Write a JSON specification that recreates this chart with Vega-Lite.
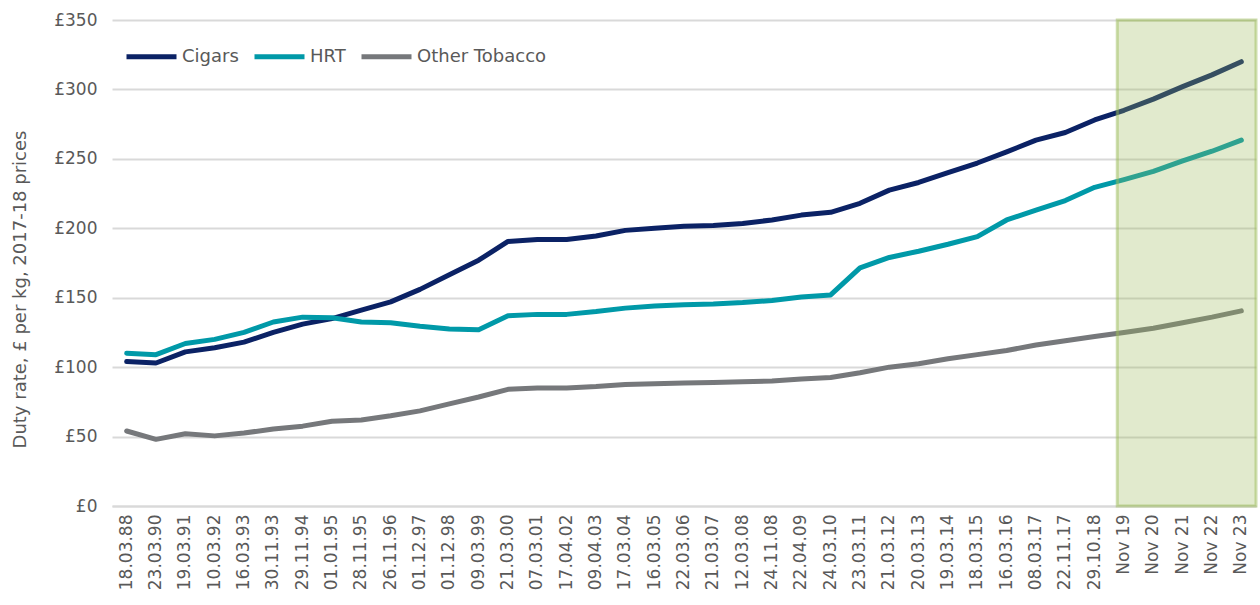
{
  "$schema": "https://vega.github.io/schema/vega-lite/v6.json",
  "width": 1144,
  "height": 486,
  "autosize": {"type": "none"},
  "padding": {"left": 112, "top": 20, "right": 4, "bottom": 99},
  "background": "white",
  "config": {
    "view": {"stroke": null},
    "font": "DejaVu Sans",
    "axis": {"labelColor": "#595959", "titleColor": "#595959", "labelFont": "DejaVu Sans", "titleFont": "DejaVu Sans"}
  },
  "datasets": {
    "series": [
      {"d":"18.03.88","s":"Cigars","v":104},{"d":"23.03.90","s":"Cigars","v":103},{"d":"19.03.91","s":"Cigars","v":111},{"d":"10.03.92","s":"Cigars","v":114},{"d":"16.03.93","s":"Cigars","v":118},{"d":"30.11.93","s":"Cigars","v":125},{"d":"29.11.94","s":"Cigars","v":131},{"d":"01.01.95","s":"Cigars","v":135},{"d":"28.11.95","s":"Cigars","v":141},{"d":"26.11.96","s":"Cigars","v":147},{"d":"01.12.97","s":"Cigars","v":156},{"d":"01.12.98","s":"Cigars","v":166.5},{"d":"09.03.99","s":"Cigars","v":177},{"d":"21.03.00","s":"Cigars","v":190.5},{"d":"07.03.01","s":"Cigars","v":192},{"d":"17.04.02","s":"Cigars","v":192},{"d":"09.04.03","s":"Cigars","v":194.5},{"d":"17.03.04","s":"Cigars","v":198.5},{"d":"16.03.05","s":"Cigars","v":200},{"d":"22.03.06","s":"Cigars","v":201.5},{"d":"21.03.07","s":"Cigars","v":202},{"d":"12.03.08","s":"Cigars","v":203.5},{"d":"24.11.08","s":"Cigars","v":206},{"d":"22.04.09","s":"Cigars","v":209.5},{"d":"24.03.10","s":"Cigars","v":211.5},{"d":"23.03.11","s":"Cigars","v":218},{"d":"21.03.12","s":"Cigars","v":227.5},{"d":"20.03.13","s":"Cigars","v":233},{"d":"19.03.14","s":"Cigars","v":240},{"d":"18.03.15","s":"Cigars","v":247},{"d":"16.03.16","s":"Cigars","v":255},{"d":"08.03.17","s":"Cigars","v":263.5},{"d":"22.11.17","s":"Cigars","v":269},{"d":"29.10.18","s":"Cigars","v":278},{"d":"Nov 19","s":"Cigars","v":285},{"d":"Nov 20","s":"Cigars","v":293},{"d":"Nov 21","s":"Cigars","v":302},{"d":"Nov 22","s":"Cigars","v":310.5},{"d":"Nov 23","s":"Cigars","v":320},
      {"d":"18.03.88","s":"HRT","v":110},{"d":"23.03.90","s":"HRT","v":109},{"d":"19.03.91","s":"HRT","v":117},{"d":"10.03.92","s":"HRT","v":120},{"d":"16.03.93","s":"HRT","v":125},{"d":"30.11.93","s":"HRT","v":132.5},{"d":"29.11.94","s":"HRT","v":136},{"d":"01.01.95","s":"HRT","v":135.5},{"d":"28.11.95","s":"HRT","v":132.5},{"d":"26.11.96","s":"HRT","v":132},{"d":"01.12.97","s":"HRT","v":129.5},{"d":"01.12.98","s":"HRT","v":127.5},{"d":"09.03.99","s":"HRT","v":127},{"d":"21.03.00","s":"HRT","v":137},{"d":"07.03.01","s":"HRT","v":138},{"d":"17.04.02","s":"HRT","v":138},{"d":"09.04.03","s":"HRT","v":140},{"d":"17.03.04","s":"HRT","v":142.5},{"d":"16.03.05","s":"HRT","v":144},{"d":"22.03.06","s":"HRT","v":145},{"d":"21.03.07","s":"HRT","v":145.5},{"d":"12.03.08","s":"HRT","v":146.5},{"d":"24.11.08","s":"HRT","v":148},{"d":"22.04.09","s":"HRT","v":150.5},{"d":"24.03.10","s":"HRT","v":152},{"d":"23.03.11","s":"HRT","v":171.5},{"d":"21.03.12","s":"HRT","v":179},{"d":"20.03.13","s":"HRT","v":183.5},{"d":"19.03.14","s":"HRT","v":188.5},{"d":"18.03.15","s":"HRT","v":194},{"d":"16.03.16","s":"HRT","v":206},{"d":"08.03.17","s":"HRT","v":213},{"d":"22.11.17","s":"HRT","v":220},{"d":"29.10.18","s":"HRT","v":229.5},{"d":"Nov 19","s":"HRT","v":235},{"d":"Nov 20","s":"HRT","v":241},{"d":"Nov 21","s":"HRT","v":248.5},{"d":"Nov 22","s":"HRT","v":255.5},{"d":"Nov 23","s":"HRT","v":263.5},
      {"d":"18.03.88","s":"Other Tobacco","v":54},{"d":"23.03.90","s":"Other Tobacco","v":48},{"d":"19.03.91","s":"Other Tobacco","v":52},{"d":"10.03.92","s":"Other Tobacco","v":50.5},{"d":"16.03.93","s":"Other Tobacco","v":52.5},{"d":"30.11.93","s":"Other Tobacco","v":55.5},{"d":"29.11.94","s":"Other Tobacco","v":57.5},{"d":"01.01.95","s":"Other Tobacco","v":61},{"d":"28.11.95","s":"Other Tobacco","v":62},{"d":"26.11.96","s":"Other Tobacco","v":65},{"d":"01.12.97","s":"Other Tobacco","v":68.5},{"d":"01.12.98","s":"Other Tobacco","v":73.5},{"d":"09.03.99","s":"Other Tobacco","v":78.5},{"d":"21.03.00","s":"Other Tobacco","v":84},{"d":"07.03.01","s":"Other Tobacco","v":85},{"d":"17.04.02","s":"Other Tobacco","v":85},{"d":"09.04.03","s":"Other Tobacco","v":86},{"d":"17.03.04","s":"Other Tobacco","v":87.5},{"d":"16.03.05","s":"Other Tobacco","v":88},{"d":"22.03.06","s":"Other Tobacco","v":88.5},{"d":"21.03.07","s":"Other Tobacco","v":89},{"d":"12.03.08","s":"Other Tobacco","v":89.5},{"d":"24.11.08","s":"Other Tobacco","v":90},{"d":"22.04.09","s":"Other Tobacco","v":91.5},{"d":"24.03.10","s":"Other Tobacco","v":92.5},{"d":"23.03.11","s":"Other Tobacco","v":96},{"d":"21.03.12","s":"Other Tobacco","v":100},{"d":"20.03.13","s":"Other Tobacco","v":102.5},{"d":"19.03.14","s":"Other Tobacco","v":106},{"d":"18.03.15","s":"Other Tobacco","v":109},{"d":"16.03.16","s":"Other Tobacco","v":112},{"d":"08.03.17","s":"Other Tobacco","v":116},{"d":"22.11.17","s":"Other Tobacco","v":119},{"d":"29.10.18","s":"Other Tobacco","v":122},{"d":"Nov 19","s":"Other Tobacco","v":125},{"d":"Nov 20","s":"Other Tobacco","v":128},{"d":"Nov 21","s":"Other Tobacco","v":132},{"d":"Nov 22","s":"Other Tobacco","v":136},{"d":"Nov 23","s":"Other Tobacco","v":140.5}
    ],
    "shade": [{"from": "Nov 19", "to": "Nov 23", "lo": 0, "hi": 350}]
  },
  "layer": [
    {
      "data": {"name": "series"},
      "mark": {"type": "line", "strokeWidth": 5, "strokeCap": "round", "strokeJoin": "round"},
      "encoding": {
        "x": {
          "field": "d", "type": "nominal",
          "scale": {"type": "band", "paddingInner": 0, "paddingOuter": 0, "domain": ["18.03.88","23.03.90","19.03.91","10.03.92","16.03.93","30.11.93","29.11.94","01.01.95","28.11.95","26.11.96","01.12.97","01.12.98","09.03.99","21.03.00","07.03.01","17.04.02","09.04.03","17.03.04","16.03.05","22.03.06","21.03.07","12.03.08","24.11.08","22.04.09","24.03.10","23.03.11","21.03.12","20.03.13","19.03.14","18.03.15","16.03.16","08.03.17","22.11.17","29.10.18","Nov 19","Nov 20","Nov 21","Nov 22","Nov 23"]},
          "axis": {"title": null, "labelAngle": -90, "labelFontSize": 17, "labelPadding": 8, "ticks": false, "domain": true, "domainColor": "#d9d9d9", "domainWidth": 2, "grid": false}
        },
        "y": {
          "field": "v", "type": "quantitative",
          "scale": {"domain": [0, 350], "nice": false},
          "axis": {"title": "Duty rate, £ per kg, 2017-18 prices", "titleFontSize": 18, "titleFontWeight": "normal", "titleX": -92, "titleY": 269, "titleBaseline": "middle", "titleAlign": "center", "titleAngle": -90, "values": [0,50,100,150,200,250,300,350], "labelExpr": "'£' + datum.value", "labelFontSize": 17, "labelPadding": 15, "ticks": false, "domain": false, "gridColor": "#d9d9d9", "gridWidth": 2}
        },
        "color": {
          "field": "s", "type": "nominal",
          "scale": {"domain": ["Cigars", "HRT", "Other Tobacco"], "range": ["#0b2265", "#0099a8", "#76787b"]},
          "legend": {"title": null, "orient": "none", "legendX": 12, "legendY": 9, "direction": "horizontal", "symbolType": "stroke", "symbolStrokeWidth": 5, "symbolSize": 2500, "labelFontSize": 18, "labelColor": "#595959", "columnPadding": 5, "labelOffset": 3}
        }
      }
    },
    {
      "data": {"name": "shade"},
      "mark": {"type": "rect", "fill": "#9bbb59", "fillOpacity": 0.3, "stroke": "#9bbb59", "strokeOpacity": 0.5, "strokeWidth": 3},
      "encoding": {
        "x": {"field": "from", "type": "nominal", "bandPosition": 0.27},
        "x2": {"field": "to", "bandPosition": 1},
        "y": {"field": "lo", "type": "quantitative"},
        "y2": {"field": "hi"}
      }
    }
  ]
}
